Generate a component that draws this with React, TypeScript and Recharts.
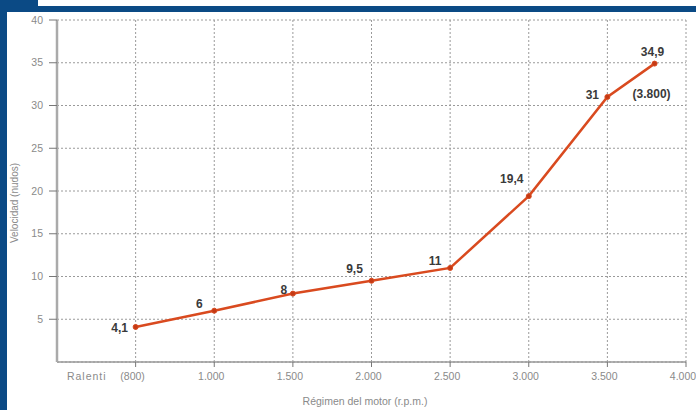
import React from "react";
import { LineChart, Line, XAxis, YAxis, CartesianGrid, LabelList } from "recharts";

// Data
const rpmLabels = ["800", "1.000", "1.500", "2.000", "2.500", "3.000", "3.500", "3.800"];
const rpmAxisPos = [500, 1000, 1500, 2000, 2500, 3000, 3500, 3800]; // ralenti drawn at first tick slot
const speeds = [4.1, 6, 8, 9.5, 11, 19.4, 31, 34.9];
const speedLabels = ["4,1", "6", "8", "9,5", "11", "19,4", "31", "34,9"];
const xTicks = [500, 1000, 1500, 2000, 2500, 3000, 3500, 4000];
const xTickLabels = ["(800)", "1.000", "1.500", "2.000", "2.500", "3.000", "3.500", "4.000"];
const yTicks = [5, 10, 15, 20, 25, 30, 35, 40];

// label placement (style)
const labelOffsets = [
  [-16, 1], [-15, -7], [-9, -4], [-17, -12], [-15, -7], [-17, -17], [-15, -2], [-2, -12],
];

const data = rpmAxisPos.map((x, i) => ({ x, rpm: rpmLabels[i], v: speeds[i] }));

const BLUE = "#0b4a85";
const LINE = "#d94a1f";
const GRAY = "#8a8a8a";
const FONT = "'Liberation Sans', Arial, sans-serif";

const XTick = (props: any) => {
  const { x, y, payload, index } = props;
  const i = xTicks.indexOf(payload.value);
  return (
    <g>
      <text x={x - 3} y={y + 11} textAnchor="middle" fontSize={10.5} fill={GRAY} fontFamily={FONT}>
        {xTickLabels[i >= 0 ? i : index]}
      </text>
      {i === 0 && (
        <text x={x - 29} y={y + 11} textAnchor="end" fontSize={10.5} fill={GRAY} fontFamily={FONT} letterSpacing={1}>
          Ralenti
        </text>
      )}
    </g>
  );
};

const PointLabel = (props: any) => {
  const { x, y, index } = props;
  const [dx, dy] = labelOffsets[index] || [0, -8];
  return (
    <g>
      <text x={x + dx} y={y + dy + 4} textAnchor="middle" fontSize={12} fontWeight="bold" fill="#3a3a3a" fontFamily={FONT}>
        {speedLabels[index]}
      </text>
      {index === speeds.length - 1 && (
        <text x={x - 3} y={y + 34} textAnchor="middle" fontSize={12} fontWeight="bold" fill="#3a3a3a" fontFamily={FONT}>
          {"(" + rpmLabels[index] + ")"}
        </text>
      )}
    </g>
  );
};

export default function App() {
  return (
    <div style={{ position: "absolute", left: 0, top: 0, width: 696, height: 410, background: "#fff", overflow: "hidden", fontFamily: FONT }}>
      <div style={{ position: "absolute", left: 0, top: 0, width: 38, height: 12, background: BLUE }} />
      <div style={{ position: "absolute", left: 0, top: 6, width: 696, height: 6, background: BLUE }} />
      <div style={{ position: "absolute", left: 0, top: 0, width: 7, height: 410, background: BLUE }} />
      <div style={{ position: "absolute", left: 0, top: 0 }}>
        <LineChart width={696} height={410} data={data} margin={{ top: 20, right: 10, bottom: 18, left: 0 }}>
          <CartesianGrid stroke="#9a9a9a" strokeDasharray="2 2" />
          <XAxis
            dataKey="x"
            type="number"
            domain={[0, 4000]}
            ticks={xTicks}
            height={30}
            tickSize={5}
            tick={<XTick />}
            axisLine={{ stroke: "#999", strokeWidth: 1.5 }}
            tickLine={{ stroke: "#777" }}
            interval={0}
          />
          <YAxis
            type="number"
            domain={[0, 40]}
            ticks={yTicks}
            width={57}
            tickSize={8}
            tickMargin={6}
            tick={{ fontSize: 10.5, fill: GRAY, fontFamily: FONT }}
            axisLine={{ stroke: "#aaa", strokeWidth: 2.5 }}
            tickLine={{ stroke: "#777" }}
            interval={0}
          />
          <Line
            dataKey="v"
            stroke={LINE}
            strokeWidth={2.5}
            dot={{ r: 2.5, fill: "#c43a15", stroke: LINE, strokeWidth: 1 }}
            isAnimationActive={false}
          >
            <LabelList dataKey="v" content={<PointLabel />} />
          </Line>
        </LineChart>
      </div>
      <div style={{ position: "absolute", left: 14, top: 203, transform: "translate(-50%, -50%) rotate(-90deg)", fontSize: 10, color: GRAY, whiteSpace: "nowrap" }}>
        Velocidad (nudos)
      </div>
      <div style={{ position: "absolute", left: 365, top: 401, transform: "translate(-50%, -50%)", fontSize: 10.5, color: GRAY, whiteSpace: "nowrap" }}>
        Régimen del motor (r.p.m.)
      </div>
    </div>
  );
}
